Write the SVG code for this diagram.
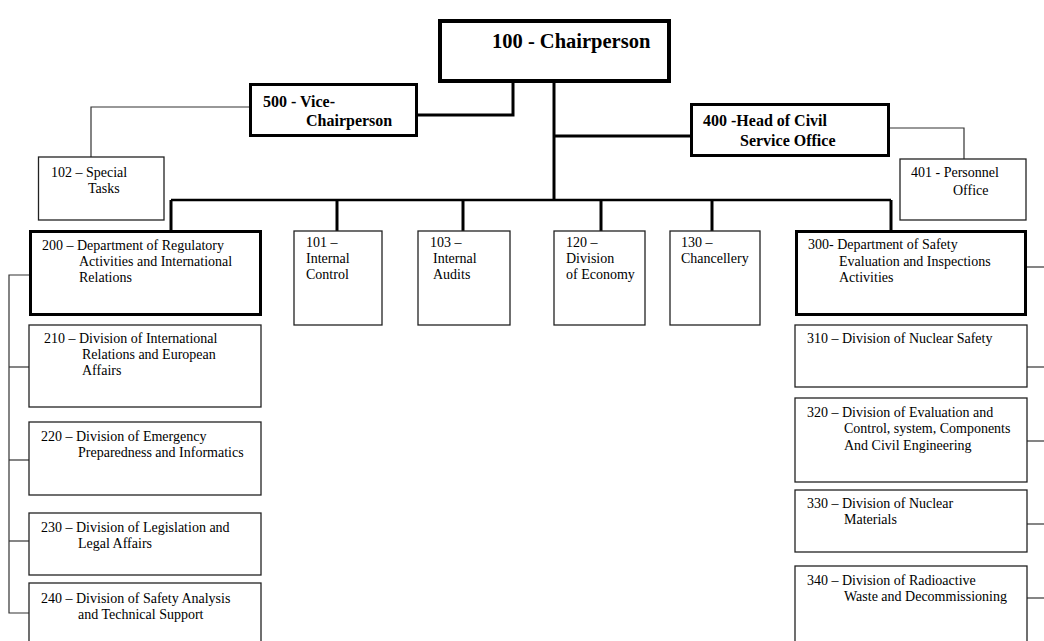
<svg xmlns="http://www.w3.org/2000/svg" width="1044" height="641" viewBox="0 0 1044 641">
<style>
text{font-family:"Liberation Serif","Times New Roman",serif;fill:#000}
.r{font-size:14px}
.b{font-size:16px;font-weight:bold}
.thin{fill:#fff;stroke:#222;stroke-width:1.3}
.thick{fill:#fff;stroke:#000;stroke-width:3}
.cl{fill:none;stroke:#000;stroke-width:3}
.cb{fill:none;stroke:#000;stroke-width:2.5}
.ct{fill:none;stroke:#333;stroke-width:1.2}
</style>
<rect width="1044" height="641" fill="#fff"/>
<g id="connectors">
<polyline class="cl" points="513,83 513,115 418,115"/>
<polyline class="cl" points="554,83 554,200"/>
<polyline class="cl" points="554,136 690,136"/>
<polyline class="cb" points="171,200 891,200"/>
<polyline class="cl" points="171,200 171,230"/>
<polyline class="cl" points="337,200 337,231"/>
<polyline class="cl" points="463,200 463,231"/>
<polyline class="cl" points="601,200 601,231"/>
<polyline class="cl" points="712,200 712,231"/>
<polyline class="cl" points="891,200 891,230"/>
<polyline class="ct" points="249,107 91,107 91,157"/>
<polyline class="ct" points="890,128 964,128 964,159"/>
<polyline class="ct" points="29,275 9,275 9,613 29,613"/>
<line class="ct" x1="9" y1="367" x2="29" y2="367"/>
<line class="ct" x1="9" y1="460" x2="29" y2="460"/>
<line class="ct" x1="9" y1="541" x2="29" y2="541"/>
<line class="ct" x1="1027" y1="267" x2="1044" y2="267"/>
<line class="ct" x1="1027" y1="367" x2="1044" y2="367"/>
<line class="ct" x1="1027" y1="441" x2="1044" y2="441"/>
<line class="ct" x1="1027" y1="524" x2="1044" y2="524"/>
<line class="ct" x1="1027" y1="598" x2="1044" y2="598"/>
</g>
<g id="n100">
<rect x="440" y="21" width="229" height="60" fill="#fff" stroke="#000" stroke-width="4"/>
<text x="492" y="48" style="font-size:20.5px;font-weight:bold">100 - Chairperson</text>
</g>
<g id="n500">
<rect class="thick" x="250.5" y="84.5" width="166" height="51"/>
<text class="b" x="263" y="107">500 -  Vice-</text>
<text class="b" x="306" y="126">Chairperson</text>
</g>
<g id="n400">
<rect class="thick" x="691.5" y="104.5" width="197" height="51"/>
<text class="b" x="703" y="126">400 -Head of Civil</text>
<text class="b" x="740" y="146">Service Office</text>
</g>
<g id="n102">
<rect class="thin" x="38.5" y="157" width="125.5" height="63"/>
<text class="r" x="51" y="177">102 – Special</text>
<text class="r" x="88" y="193">Tasks</text>
</g>
<g id="n401">
<rect class="thin" x="900" y="159" width="126" height="61"/>
<text class="r" x="911" y="177">401 - Personnel</text>
<text class="r" x="953" y="195">Office</text>
</g>
<g id="n200">
<rect class="thick" x="30.5" y="231.5" width="230" height="83"/>
<text class="r" x="42" y="250">200 – Department of Regulatory</text>
<text class="r" x="79" y="266">Activities and International</text>
<text class="r" x="79" y="282">Relations</text>
</g>
<g id="n101">
<rect class="thin" x="294" y="231" width="88" height="94"/>
<text class="r" x="306" y="247">101 –</text>
<text class="r" x="306" y="263">Internal</text>
<text class="r" x="306" y="279">Control</text>
</g>
<g id="n103">
<rect class="thin" x="418" y="231" width="92" height="94"/>
<text class="r" x="430" y="247">103 –</text>
<text class="r" x="433" y="263">Internal</text>
<text class="r" x="433" y="279">Audits</text>
</g>
<g id="n120">
<rect class="thin" x="554" y="231" width="91" height="94"/>
<text class="r" x="566" y="247">120 –</text>
<text class="r" x="566" y="263">Division</text>
<text class="r" x="566" y="279">of Economy</text>
</g>
<g id="n130">
<rect class="thin" x="670" y="231" width="90" height="94"/>
<text class="r" x="681" y="247">130 –</text>
<text class="r" x="681" y="263">Chancellery</text>
</g>
<g id="n300">
<rect class="thick" x="796.5" y="231.5" width="229" height="83"/>
<text class="r" x="808" y="249">300- Department of Safety</text>
<text class="r" x="839" y="266">Evaluation and Inspections</text>
<text class="r" x="839" y="282">Activities</text>
</g>
<g id="n210">
<rect class="thin" x="29" y="325" width="232" height="82"/>
<text class="r" x="44" y="343">210 – Division of International</text>
<text class="r" x="82" y="359">Relations and European</text>
<text class="r" x="82" y="375">Affairs</text>
</g>
<g id="n220">
<rect class="thin" x="29" y="422" width="232" height="73"/>
<text class="r" x="41" y="441">220 – Division of Emergency</text>
<text class="r" x="78" y="457">Preparedness and Informatics</text>
</g>
<g id="n230">
<rect class="thin" x="29" y="513" width="232" height="62"/>
<text class="r" x="41" y="532">230 – Division of Legislation and</text>
<text class="r" x="78" y="548">Legal Affairs</text>
</g>
<g id="n240">
<rect class="thin" x="29" y="583" width="232" height="70"/>
<text class="r" x="41" y="603">240 – Division of Safety Analysis</text>
<text class="r" x="78" y="619">and Technical Support</text>
</g>
<g id="n310">
<rect class="thin" x="795" y="325" width="232" height="62"/>
<text class="r" x="807" y="343">310 – Division of Nuclear Safety</text>
</g>
<g id="n320">
<rect class="thin" x="795" y="398" width="232" height="84"/>
<text class="r" x="807" y="417">320 – Division of Evaluation and</text>
<text class="r" x="844" y="433">Control, system, Components</text>
<text class="r" x="844" y="450">And Civil Engineering</text>
</g>
<g id="n330">
<rect class="thin" x="795" y="490" width="232" height="62"/>
<text class="r" x="807" y="508">330 – Division of Nuclear</text>
<text class="r" x="844" y="524">Materials</text>
</g>
<g id="n340">
<rect class="thin" x="795" y="566" width="232" height="90"/>
<text class="r" x="807" y="585">340 – Division of Radioactive</text>
<text class="r" x="844" y="601">Waste and Decommissioning</text>
</g>
</svg>
